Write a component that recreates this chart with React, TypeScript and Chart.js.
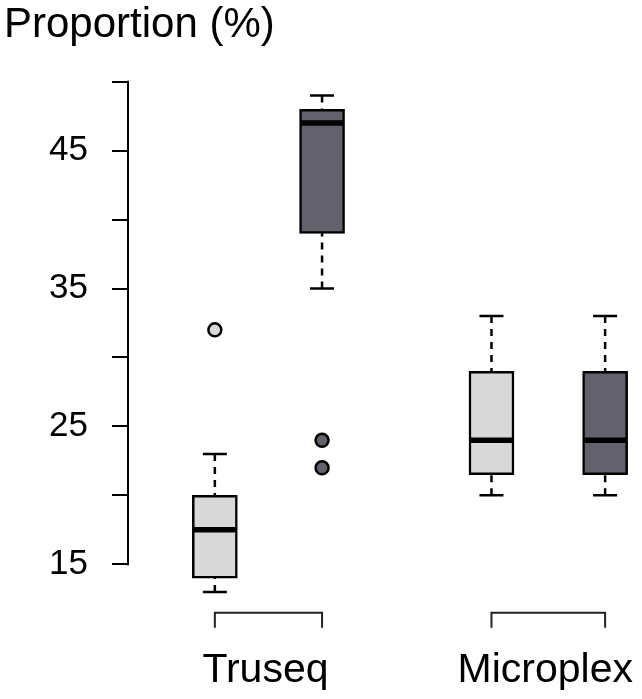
import React, { useEffect, useRef } from "react";
import { Chart, registerables } from "chart.js";

Chart.register(...registerables);

// ---- data ----
const title = "Proportion (%)";
const groupNames = ["Truseq", "Microplex"];
const boxPositions = [1, 2, 3.58, 4.64];
const boxGroup = [0, 0, 1, 1];
const boxShade = ["light", "dark", "light", "dark"];
const whiskerLow = [13, 35, 20, 20];
const quartile1 = [14, 39, 21.5, 21.5];
const medians = [17.5, 47, 24, 24];
const quartile3 = [20, 48, 29, 29];
const whiskerHigh = [23, 49, 33, 33];
const outliers = [[32], [24, 22], [], []];
const yTickValues = [15, 20, 25, 30, 35, 40, 45, 50];
const yTickLabels = ["15", "", "25", "", "35", "", "45", ""];

// ---- styles ----
const FONT = '"Liberation Sans", Arial, Helvetica, sans-serif';
const SHADES: Record<string, string> = { light: "#d8d8d8", dark: "#62616c" };
const BOX_W = 45;
const CAP_W = 24;

const boxPlugin = {
  id: "boxExtras",
  beforeDatasetsDraw(chart: any) {
    const { ctx, scales } = chart;
    const xs = scales.x;
    const ys = scales.y;
    ctx.save();
    ctx.strokeStyle = "#000";
    ctx.lineWidth = 2.5;
    boxPositions.forEach((p, i) => {
      const x = xs.getPixelForValue(p);
      ctx.setLineDash([7, 6]);
      ctx.beginPath();
      ctx.moveTo(x, ys.getPixelForValue(whiskerHigh[i]));
      ctx.lineTo(x, ys.getPixelForValue(quartile3[i]));
      ctx.moveTo(x, ys.getPixelForValue(whiskerLow[i]));
      ctx.lineTo(x, ys.getPixelForValue(quartile1[i]));
      ctx.stroke();
      ctx.setLineDash([]);
      ctx.beginPath();
      const yh = ys.getPixelForValue(whiskerHigh[i]);
      const yl = ys.getPixelForValue(whiskerLow[i]);
      ctx.moveTo(x - CAP_W / 2, yh);
      ctx.lineTo(x + CAP_W / 2, yh);
      ctx.moveTo(x - CAP_W / 2, yl);
      ctx.lineTo(x + CAP_W / 2, yl);
      ctx.stroke();
    });
    ctx.restore();
  },
  afterDatasetsDraw(chart: any) {
    const { ctx, scales } = chart;
    const xs = scales.x;
    const ys = scales.y;
    ctx.save();
    ctx.strokeStyle = "#000";
    ctx.lineWidth = 5.5;
    boxPositions.forEach((p, i) => {
      const x = xs.getPixelForValue(p);
      const y = ys.getPixelForValue(medians[i]);
      ctx.beginPath();
      ctx.moveTo(x - BOX_W / 2 + 1, y);
      ctx.lineTo(x + BOX_W / 2 - 1, y);
      ctx.stroke();
    });
    ctx.restore();
  },
  afterDraw(chart: any) {
    const { ctx, scales, chartArea } = chart;
    const xs = scales.x;
    const ys = scales.y;
    ctx.save();
    ctx.strokeStyle = "#000";
    ctx.lineWidth = 2;
    ctx.beginPath();
    ctx.moveTo(chartArea.left, ys.getPixelForValue(yTickValues[0]) + 1);
    ctx.lineTo(chartArea.left, ys.getPixelForValue(yTickValues[yTickValues.length - 1]) - 1);
    ctx.stroke();
    ctx.strokeStyle = "#222";
    ctx.lineWidth = 2;
    ctx.fillStyle = "#000";
    ctx.font = `41px ${FONT}`;
    ctx.textAlign = "center";
    ctx.textBaseline = "alphabetic";
    groupNames.forEach((name, g) => {
      const pos = boxPositions.filter((_, i) => boxGroup[i] === g);
      const x1 = xs.getPixelForValue(Math.min(...pos));
      const x2 = xs.getPixelForValue(Math.max(...pos));
      const yTop = chartArea.bottom + 7;
      const yLeg = chartArea.bottom + 22;
      ctx.beginPath();
      ctx.moveTo(x1, yLeg);
      ctx.lineTo(x1, yTop);
      ctx.lineTo(x2, yTop);
      ctx.lineTo(x2, yLeg);
      ctx.stroke();
      ctx.fillText(name, (x1 + x2) / 2 - 3, chartArea.bottom + 76);
    });
    ctx.textAlign = "left";
    ctx.font = `42px ${FONT}`;
    ctx.fillText(title, 4, 37);
    ctx.restore();
  },
};

export default function App() {
  const ref = useRef<HTMLCanvasElement | null>(null);
  useEffect(() => {
    if (!ref.current) return;
    const boxData = boxPositions.map((x, i) => ({ x, y: [quartile1[i], quartile3[i]] }));
    const outData: { x: number; y: number }[] = [];
    const outColors: string[] = [];
    outliers.forEach((vals, i) =>
      vals.forEach((v) => {
        outData.push({ x: boxPositions[i], y: v });
        outColors.push(SHADES[boxShade[i]]);
      })
    );
    const chart = new Chart(ref.current, {
      type: "bar",
      data: {
        datasets: [
          {
            type: "bar",
            data: boxData as any,
            backgroundColor: boxShade.map((s) => SHADES[s]),
            borderColor: "#000",
            borderWidth: 2.5,
            borderSkipped: false,
            barThickness: BOX_W,
          } as any,
          {
            type: "scatter",
            data: outData,
            pointRadius: 6.5,
            pointBorderWidth: 2.5,
            pointBorderColor: "#000",
            pointBackgroundColor: outColors,
            showLine: false,
          } as any,
        ],
      },
      options: {
        animation: false,
        responsive: false,
        maintainAspectRatio: false,
        events: [],
        layout: { padding: { left: 0, right: 0, top: 81.65, bottom: 93.33 } },
        plugins: { legend: { display: false }, tooltip: { enabled: false }, title: { display: false } },
        scales: {
          x: { type: "linear", display: false, offset: false, min: 0.19, max: 4.9, grid: { offset: false } },
          y: {
            type: "linear",
            min: 12,
            max: 50,
            afterFit: (s: any) => {
              s.width = 128;
            },
            afterBuildTicks: (s: any) => {
              s.ticks = yTickValues.map((v) => ({ value: v }));
            },
            border: { display: false },
            grid: {
              display: true,
              drawOnChartArea: false,
              drawTicks: true,
              tickLength: 16,
              color: "#000",
              lineWidth: 2,
            },
            ticks: {
              autoSkip: false,
              padding: 24,
              color: "#000",
              font: { family: FONT, size: 35 },
              callback: (v: any) => {
                const idx = yTickValues.indexOf(Number(v));
                return idx >= 0 ? yTickLabels[idx] : "";
              },
            },
          },
        },
      },
      plugins: [boxPlugin],
    });
    return () => chart.destroy();
  }, []);
  return (
    <div style={{ position: "fixed", left: 0, top: 0, width: 642, height: 699, background: "#fff" }}>
      <canvas ref={ref} width={642} height={699} style={{ width: 642, height: 699, display: "block" }} />
    </div>
  );
}
